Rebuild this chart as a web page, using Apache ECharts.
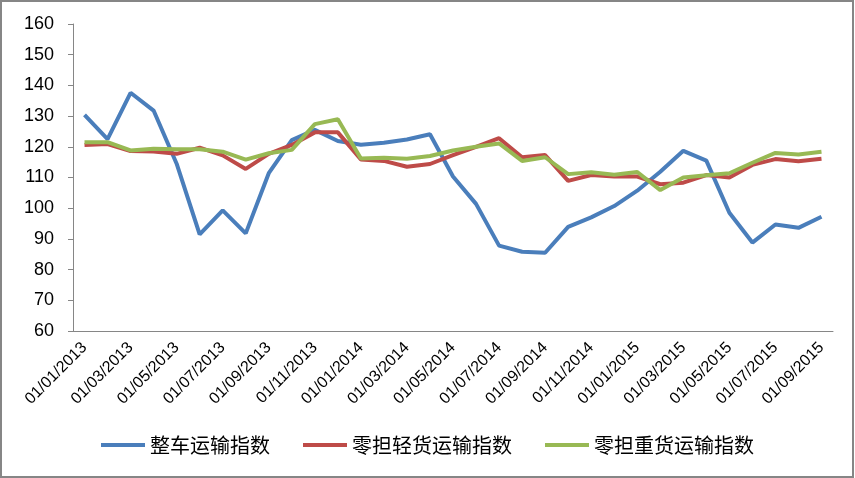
<html>
<head>
<meta charset="UTF-8">
<script src="https://cdn.jsdelivr.net/npm/echarts@6/dist/echarts.min.js"></script>
<style>
html, body { margin: 0; padding: 0; background: #fff; }
#main { width: 855px; height: 478px; }
</style>
</head>
<body>
<div id="main"></div>
<script>
// 月份 01/01/2013 - 01/09/2015
var months = [];
for (var y = 2013; y <= 2015; y++) {
    for (var m = 1; m <= 12; m++) {
        if (y == 2015 && m > 9) break;
        months.push('01/' + (m < 10 ? '0' + m : m) + '/' + y);
    }
}

var seriesNames = ['整车运输指数', '零担轻货运输指数', '零担重货运输指数'];

var zhengche = [130.4, 122.5, 137.6, 131.8, 114.5, 91.5, 99.3, 91.8, 111.4, 122.2, 125.5,
    121.9, 120.7, 121.3, 122.4, 124.1, 110.3, 101.4, 87.8, 85.8, 85.5, 93.9,
    97.0, 100.7, 105.7, 111.9, 118.7, 115.5, 98.5, 88.8, 94.7, 93.6, 97.2];

var qinghuo = [120.6, 120.9, 118.6, 118.5, 117.7, 119.7, 117.2, 112.8, 117.7, 120.6, 124.7,
    124.7, 115.9, 115.4, 113.5, 114.4, 117.3, 120.0, 122.8, 116.6, 117.3, 108.9,
    110.8, 110.3, 110.3, 107.8, 108.3, 110.8, 110.0, 114.1, 116.0, 115.3, 116.1];

var zhonghuo = [121.5, 121.5, 118.8, 119.4, 119.2, 119.2, 118.4, 115.8, 117.9, 119.0, 127.4,
    129.0, 116.2, 116.4, 116.1, 117.0, 118.8, 120.0, 121.1, 115.4, 116.6, 111.1,
    111.7, 110.9, 111.8, 105.9, 110.0, 110.7, 111.4, 114.8, 118.0, 117.5, 118.4];

var colors = ['#4A7EBB', '#BE4B48', '#98B954'];

var myChart = echarts.init(document.getElementById('main'));

var option = {
    animation: false,
    color: colors,
    graphic: [{
        type: 'rect',
        shape: { x: 1, y: 1, width: 852, height: 476 },
        style: { fill: 'none', stroke: '#868686', lineWidth: 2 },
        silent: true
    }],
    grid: {
        left: 73,
        right: 22,
        top: 24,
        bottom: 147
    },
    legend: {
        bottom: 18,
        left: 'center',
        icon: 'rect',
        itemWidth: 44,
        itemHeight: 4,
        itemGap: 33,
        textStyle: {
            fontFamily: 'Noto Sans CJK SC',
            fontSize: 20,
            color: '#000'
        },
        data: seriesNames
    },
    xAxis: {
        type: 'category',
        boundaryGap: true,
        data: months,
        axisLine: { lineStyle: { color: '#868686', width: 1 } },
        axisTick: { interval: 1, length: 5, lineStyle: { color: '#868686' } },
        axisLabel: {
            interval: 1,
            rotate: 45,
            margin: 14,
            color: '#000',
            fontFamily: 'Liberation Sans',
            fontSize: 16
        }
    },
    yAxis: {
        type: 'value',
        min: 60,
        max: 160,
        interval: 10,
        splitLine: { show: false },
        axisLine: { show: true, lineStyle: { color: '#868686', width: 1 } },
        axisTick: { show: true, length: 5, lineStyle: { color: '#868686' } },
        axisLabel: {
            margin: 19,
            color: '#000',
            fontFamily: 'Liberation Sans',
            fontSize: 18
        }
    },
    series: [
        { name: seriesNames[0], type: 'line', data: zhengche, symbol: 'none', lineStyle: { width: 4 } },
        { name: seriesNames[1], type: 'line', data: qinghuo, symbol: 'none', lineStyle: { width: 4 } },
        { name: seriesNames[2], type: 'line', data: zhonghuo, symbol: 'none', lineStyle: { width: 4 } }
    ]
};

myChart.setOption(option);
</script>
</body>
</html>
